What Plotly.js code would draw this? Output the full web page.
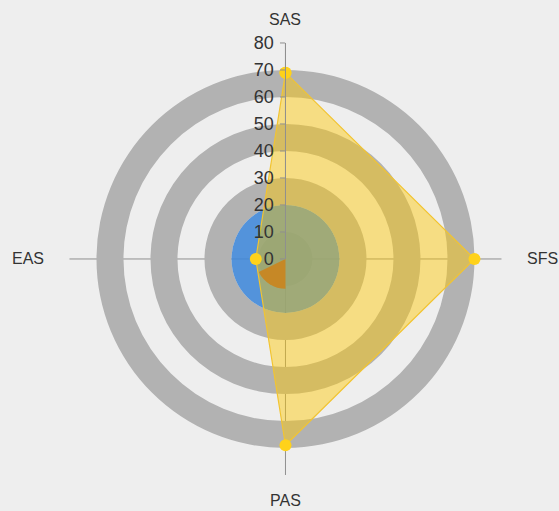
<!DOCTYPE html>
<html>
<head>
<meta charset="utf-8">
<script src="https://cdn.plot.ly/plotly-3.0.1.min.js"></script>
<style>html,body{margin:0;padding:0;background:#eeeeee;}#chart{width:559px;height:511px;}</style>
</head>
<body>
<div id="chart"></div>
<script>
// ---- data ----
const categories = ['SAS', 'SFS', 'PAS', 'EAS'];
const yellowValues = [69, 70, 69, 11];
const ringInner = [0, 20, 40, 60];
const ringOuter = [10, 30, 50, 70];
const blueRadius = [20];
const orangeRadius = [11];
const orangeStart = 180;   // degrees clockwise from SAS
const orangeEnd = 244;
const radialTicks = [0, 10, 20, 30, 40, 50, 60, 70, 80];

// ---- build ----
const step = 360 / categories.length;
const catAngles = categories.map((c, i) => i * step);

const traces = [];

// gray rings
traces.push({
  type: 'barpolar',
  theta: ringInner.map(() => 0),
  width: ringInner.map(() => 360),
  base: ringInner,
  r: ringOuter.map((o, i) => o - ringInner[i]),
  marker: {color: '#b2b2b2', line: {width: 0}},
  hoverinfo: 'skip'
});

// blue disc
traces.push({
  type: 'barpolar',
  theta: [0], width: [360], base: [0],
  r: blueRadius,
  marker: {color: '#3d86d8', opacity: 0.88, line: {width: 0}},
  hoverinfo: 'skip'
});

// orange wedge
traces.push({
  type: 'barpolar',
  theta: [(orangeStart + orangeEnd) / 2], width: [orangeEnd - orangeStart], base: [0],
  r: orangeRadius,
  marker: {color: 'rgb(152,84,70)', opacity: 1, line: {width: 0}},
  hoverinfo: 'skip'
});

// yellow polygon
traces.push({
  type: 'scatterpolar',
  mode: 'lines+markers',
  theta: catAngles.concat([catAngles[0]]),
  r: yellowValues.concat([yellowValues[0]]),
  fill: 'toself',
  fillcolor: 'rgba(255,200,0,0.45)',
  line: {color: '#f2c431', width: 1.2},
  marker: {color: '#ffd21a', size: 12},
  cliponaxis: false
});

// category labels placed just outside the polar area
const cx = (0.1243 + 0.8971) / 2, cy = (0.0705 + 0.9159) / 2;
const labelOffsets = {SAS: [0, 0.468], SFS: [0.459, 0], PAS: [0, -0.472], EAS: [-0.461, 0]};
const annotations = categories.map(c => ({
  text: c, xref: 'paper', yref: 'paper',
  x: cx + labelOffsets[c][0], y: cy + labelOffsets[c][1],
  xanchor: 'center', yanchor: 'middle', showarrow: false,
  font: {size: 16, color: '#333333'}
}));

const layout = {
  width: 559, height: 511,
  margin: {l: 0, r: 0, t: 0, b: 0},
  paper_bgcolor: '#eeeeee',
  showlegend: false,
  font: {family: 'Liberation Sans, Arial, sans-serif', color: '#333333'},
  annotations: annotations,
  polar: {
    domain: {x: [0.1243, 0.8971], y: [0.0705, 0.9159]},
    bgcolor: 'rgba(0,0,0,0)',
    barmode: 'overlay',
    angularaxis: {
      type: 'linear',
      rotation: 90,
      direction: 'clockwise',
      tickvals: catAngles,
      ticktext: categories,
      showticklabels: false,
      showline: false,
      showgrid: true,
      gridcolor: '#8f8f8f',
      gridwidth: 1,
      ticks: ''
    },
    radialaxis: {
      range: [0, 80],
      angle: 90,
      side: 'counterclockwise',
      tickvals: radialTicks,
      showgrid: false,
      showline: true,
      linecolor: '#8f8f8f',
      ticks: 'outside',
      ticklen: 5,
      tickcolor: '#8f8f8f',
      tickangle: 90,
      tickfont: {size: 18, color: '#333333'},
      layer: 'above traces'
    }
  }
};

Plotly.newPlot('chart', traces, layout, {displayModeBar: false, staticPlot: true});
</script>
</body>
</html>
